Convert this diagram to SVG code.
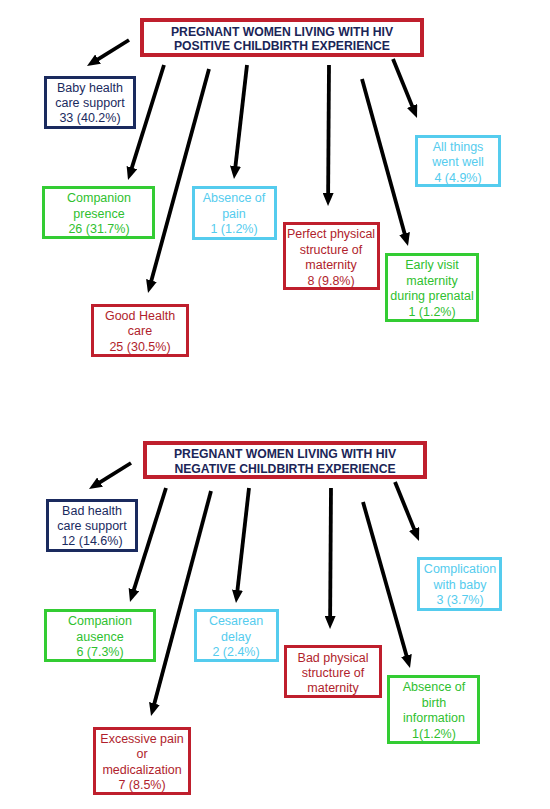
<svg xmlns="http://www.w3.org/2000/svg" width="550" height="809" viewBox="0 0 550 809">
<style>
text{font-family:"Liberation Sans",Arial,sans-serif;font-size:12.5px;text-anchor:middle}
.title text{font-weight:bold;font-size:12.2px;fill:#1a2557}
.title rect{fill:#fff;stroke:#bf1f2d;stroke-width:4}
rect{fill:#fff;stroke-width:3}
.navy rect{stroke:#1a2a5e}.navy text{fill:#1a2a5e}
.green rect{stroke:#33cc33}.green text{fill:#2fbf2f}
.blue rect{stroke:#55ccee}.blue text{fill:#55ccee}
.red rect{stroke:#bf1f2d}.red text{fill:#b01e2c}
.conn line{stroke:#000;stroke-width:3.8;marker-end:url(#ah)}
</style>
<defs>
<marker id="ah" markerUnits="userSpaceOnUse" markerWidth="13" markerHeight="11" viewBox="0 0 13 11" refX="5" refY="5.5" orient="auto">
<path d="M0,0 L13,5.5 L0,11 z" fill="#000"/>
</marker>
</defs>
<rect x="0" y="0" width="550" height="809" fill="#fff" stroke="none"/>

<g class="conn">
<line x1="129" y1="40" x2="93.8" y2="61.8"/>
<line x1="164" y1="65" x2="130.4" y2="172.4"/>
<line x1="209" y1="69" x2="150.1" y2="285.3"/>
<line x1="247" y1="65" x2="234.9" y2="171"/>
<line x1="329" y1="65" x2="328.1" y2="198"/>
<line x1="362" y1="79" x2="405.9" y2="238.3"/>
<line x1="393" y1="59" x2="414" y2="110.6"/>
<line x1="131" y1="463" x2="95.8" y2="484.8"/>
<line x1="166" y1="488" x2="132.4" y2="594.4"/>
<line x1="211" y1="491" x2="153.1" y2="708.3"/>
<line x1="249" y1="488" x2="236.9" y2="595"/>
<line x1="331" y1="488" x2="330.1" y2="621"/>
<line x1="363" y1="502" x2="407.8" y2="660.3"/>
<line x1="395" y1="482" x2="416" y2="533.6"/>
</g>

<g id="pos-title" class="title">
<rect x="142" y="20" width="280" height="35"/>
<text x="282" y="35.5">PREGNANT WOMEN LIVING WITH HIV</text>
<text x="282" y="49.5">POSITIVE CHILDBIRTH EXPERIENCE</text>
</g>
<g id="baby" class="navy">
<rect x="45.5" y="77.5" width="89" height="50"/>
<text x="90" y="91.5">Baby health</text>
<text x="90" y="107">care support</text>
<text x="90" y="122">33 (40.2%)</text>
</g>
<g id="allwell" class="blue">
<rect x="416.5" y="136.5" width="83" height="49"/>
<text x="458" y="150.5">All things</text>
<text x="458" y="166">went well</text>
<text x="458" y="181.5">4 (4.9%)</text>
</g>
<g id="comp-pres" class="green">
<rect x="43.5" y="187.5" width="110" height="50"/>
<text x="99" y="201.5">Companion</text>
<text x="99" y="217.5">presence</text>
<text x="99" y="232.5">26 (31.7%)</text>
</g>
<g id="abs-pain" class="blue">
<rect x="193.5" y="187.5" width="82" height="51"/>
<text x="234" y="201.5">Absence of</text>
<text x="234" y="217.5">pain</text>
<text x="234" y="232.5">1 (1.2%)</text>
</g>
<g id="perfect" class="red">
<rect x="284.5" y="223.5" width="94" height="65"/>
<text x="331" y="237.5">Perfect physical</text>
<text x="331" y="253.5">structure of</text>
<text x="331" y="269">maternity</text>
<text x="331" y="285">8 (9.8%)</text>
</g>
<g id="early" class="green">
<rect x="386.5" y="254.5" width="91" height="66"/>
<text x="432" y="268.5">Early visit</text>
<text x="432" y="284.5">maternity</text>
<text x="432" y="300">during prenatal</text>
<text x="432" y="315.5">1 (1.2%)</text>
</g>
<g id="good" class="red">
<rect x="92.5" y="305.5" width="95" height="50"/>
<text x="140" y="319.5">Good Health</text>
<text x="140" y="335">care</text>
<text x="140" y="350.5">25 (30.5%)</text>
</g>

<g id="neg-title" class="title">
<rect x="145" y="443" width="280" height="34"/>
<text x="285" y="457.5">PREGNANT WOMEN LIVING WITH HIV</text>
<text x="285" y="472.5">NEGATIVE CHILDBIRTH EXPERIENCE</text>
</g>
<g id="bad-health" class="navy">
<rect x="47.5" y="500.5" width="89" height="50"/>
<text x="92" y="514.5">Bad health</text>
<text x="92" y="529.5">care support</text>
<text x="92" y="544.5">12 (14.6%)</text>
</g>
<g id="complication" class="blue">
<rect x="418.5" y="558.5" width="82" height="51"/>
<text x="460" y="573">Complication</text>
<text x="460" y="588.5">with baby</text>
<text x="460" y="604">3 (3.7%)</text>
</g>
<g id="comp-aus" class="green">
<rect x="45.5" y="610.5" width="109" height="50"/>
<text x="100" y="625">Companion</text>
<text x="100" y="640.5">ausence</text>
<text x="100" y="655.5">6 (7.3%)</text>
</g>
<g id="cesarean" class="blue">
<rect x="195.5" y="610.5" width="82" height="50"/>
<text x="236" y="625">Cesarean</text>
<text x="236" y="640.5">delay</text>
<text x="236" y="655.5">2 (2.4%)</text>
</g>
<g id="bad-phys" class="red">
<rect x="285.5" y="646.5" width="95" height="50"/>
<text x="333" y="661.5">Bad physical</text>
<text x="333" y="676.5">structure of</text>
<text x="333" y="692">maternity</text>
</g>
<g id="abs-birth" class="green">
<rect x="388.5" y="676.5" width="90" height="66"/>
<text x="434" y="691">Absence of</text>
<text x="434" y="707">birth</text>
<text x="434" y="722">information</text>
<text x="434" y="738">1(1.2%)</text>
</g>
<g id="excessive" class="red">
<rect x="94.5" y="728.5" width="95" height="65"/>
<text x="142" y="742.5">Excessive pain</text>
<text x="142" y="758">or</text>
<text x="142" y="773.5">medicalization</text>
<text x="142" y="789">7 (8.5%)</text>
</g>
</svg>
